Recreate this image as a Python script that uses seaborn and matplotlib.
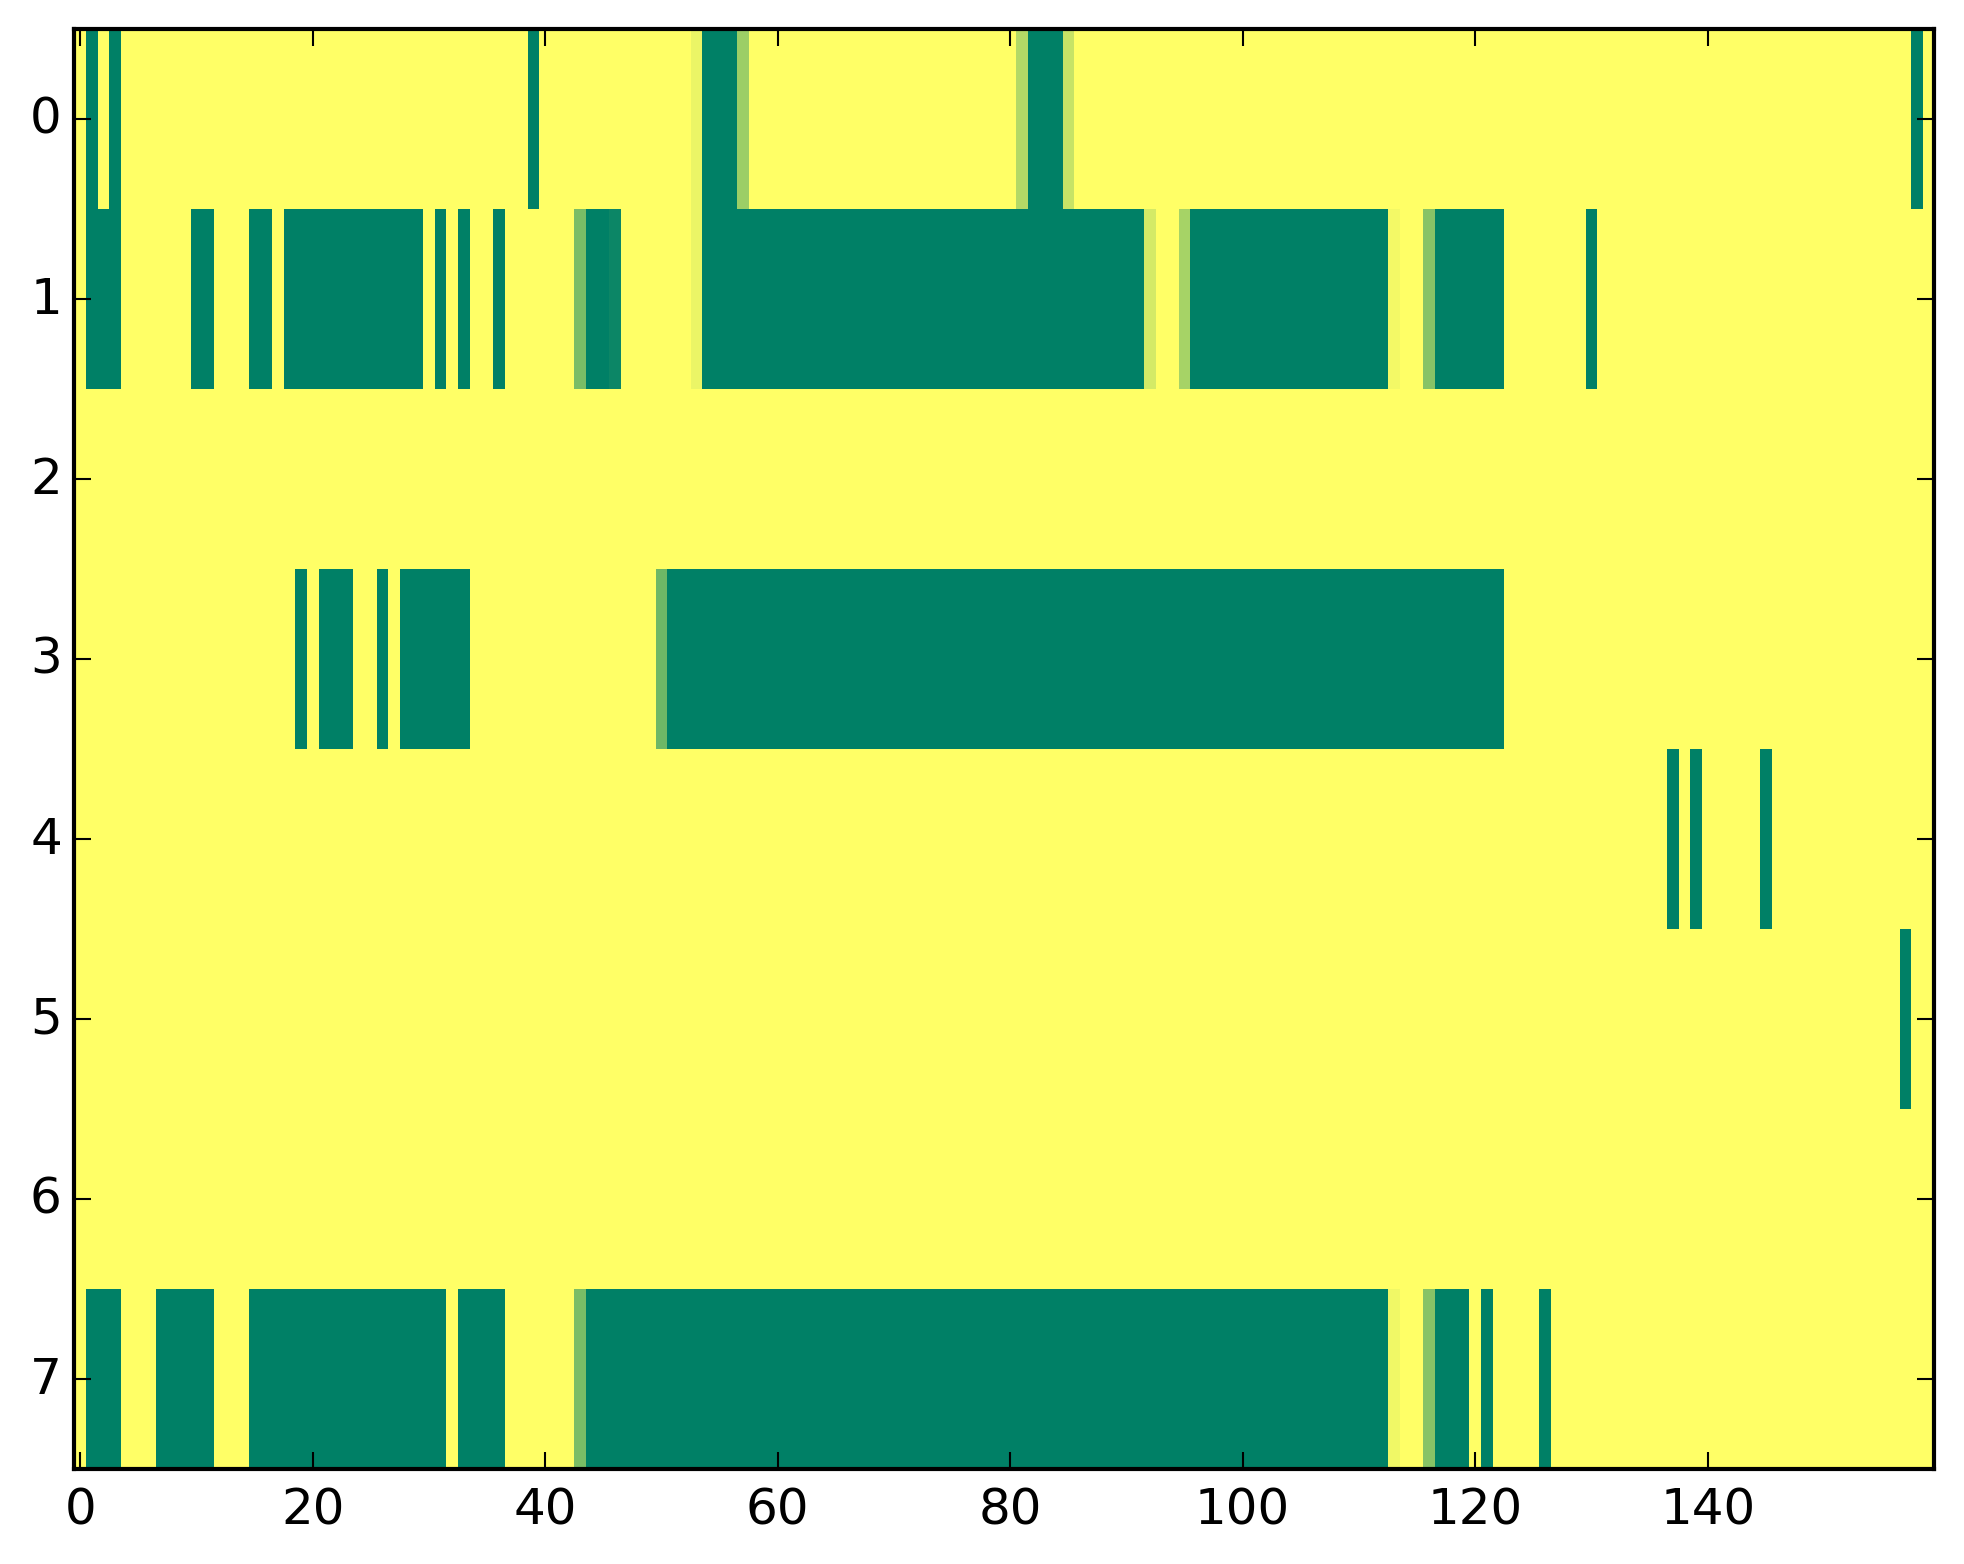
import numpy as np
import matplotlib
matplotlib.use("Agg")
import matplotlib.pyplot as plt
import seaborn as sns

# 8 rows x 160 columns, value 1 = yellow, 0 = green (summer colormap)
n_rows = 8
n_cols = 160

# runs of fully "low" cells per row (inclusive column ranges)
low_runs = {
    0: [(1, 1), (3, 3), (39, 39), (54, 56), (82, 84), (158, 158)],
    1: [(1, 3), (10, 11), (15, 16), (18, 29), (31, 31), (33, 33), (36, 36),
        (44, 45), (54, 91), (96, 112), (117, 122), (130, 130)],
    2: [],
    3: [(19, 19), (21, 23), (26, 26), (28, 33), (51, 122)],
    4: [(137, 137), (139, 139), (145, 145)],
    5: [(157, 157)],
    6: [],
    7: [(1, 3), (7, 11), (15, 31), (33, 36), (44, 112), (117, 119),
        (121, 121), (126, 126)],
}

# cells with in-between values
partial = {
    0: {53: 0.92, 57: 0.61, 81: 0.70, 85: 0.78},
    1: {43: 0.48, 46: 0.05, 53: 0.92, 92: 0.83, 95: 0.65, 113: 0.95, 116: 0.53},
    3: {50: 0.43},
    7: {43: 0.48, 113: 0.94, 116: 0.53},
}

xtick_vals = [0, 20, 40, 60, 80, 100, 120, 140]
ytick_vals = list(range(n_rows))


def build_matrix():
    mat = np.ones((n_rows, n_cols))
    for r, runs in low_runs.items():
        for a, b in runs:
            mat[r, a:b + 1] = 0.0
    for r, cells in partial.items():
        for c, v in cells.items():
            mat[r, c] = v
    return mat


plt.style.use("classic")
fig, ax = plt.subplots(figsize=(8, 6))

sns.heatmap(build_matrix(), cmap="summer", vmin=0, vmax=1, cbar=False, ax=ax)

# imshow-like ticks at cell centres
ax.set_xticks([v + 0.5 for v in xtick_vals])
ax.set_xticklabels([str(v) for v in xtick_vals], rotation=0)
ax.set_yticks([v + 0.5 for v in ytick_vals])
ax.set_yticklabels([str(v) for v in ytick_vals], rotation=0, va="center")
ax.tick_params(direction="in", top=True, right=True, length=4, width=0.5,
               labelsize=12)
ax.tick_params(axis="y", pad=3)
for s in ax.spines.values():
    s.set_visible(True)
    s.set_linewidth(1.0)
    s.set_color("black")

fig.patch.set_facecolor("white")
plt.savefig("out.png", dpi=300, bbox_inches="tight", facecolor="white")
